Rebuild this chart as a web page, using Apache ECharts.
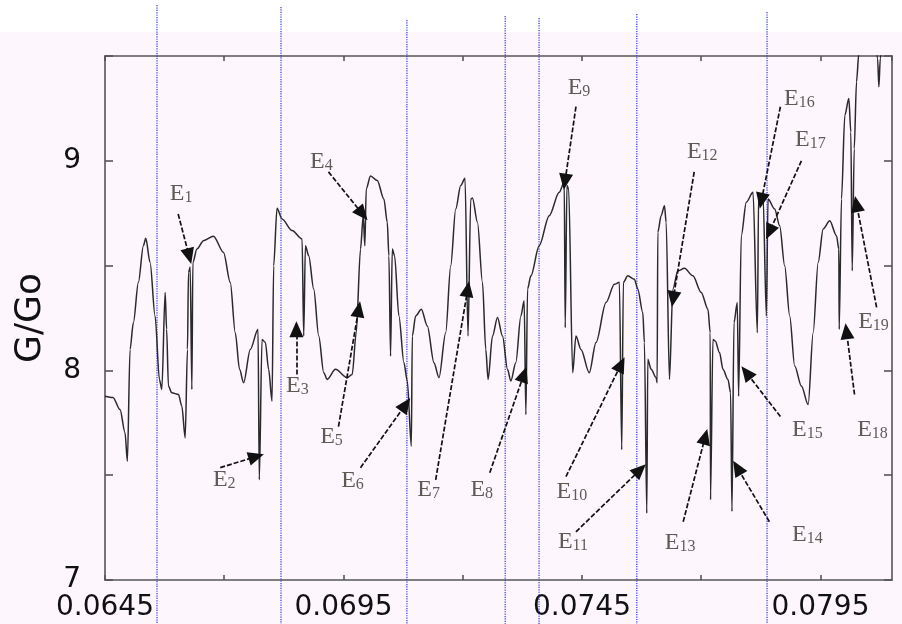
<!DOCTYPE html>
<html>
<head>
<meta charset="utf-8">
<title>G/Go</title>
<script src="https://cdn.jsdelivr.net/npm/echarts@6/dist/echarts.min.js"></script>
<style>
  html, body { margin: 0; padding: 0; background: #fdf6fd; }
  #chart { width: 902px; height: 624px; }
</style>
</head>
<body>
<div id="chart"></div>
<script>
// conductance curve
var energy = [
  0.064500, 0.064668, 0.064815, 0.064920, 0.064969, 0.065025, 0.065095, 0.065200, 0.065305, 0.065355,
  0.065445, 0.065550, 0.065641, 0.065691, 0.065761, 0.065792, 0.065830, 0.065901, 0.066040, 0.066111,
  0.066181, 0.066229, 0.066250, 0.066286, 0.066321, 0.066342, 0.066427, 0.066565, 0.066775, 0.066985,
  0.067126, 0.067231, 0.067321, 0.067406, 0.067546, 0.067708, 0.067735, 0.067792, 0.067861, 0.067931,
  0.068002, 0.068036, 0.068107, 0.068212, 0.068422, 0.068632, 0.068666, 0.068702, 0.068771, 0.068876,
  0.068981, 0.069086, 0.069158, 0.069332, 0.069578, 0.069683, 0.069767, 0.069857, 0.069914, 0.069948,
  0.069977, 0.070067, 0.070208, 0.070347, 0.070418, 0.070452, 0.070487, 0.070523, 0.070571, 0.070662,
  0.070767, 0.070838, 0.070922, 0.070943, 0.071013, 0.071132, 0.071258, 0.071397, 0.071502, 0.071643,
  0.071748, 0.071853, 0.071958, 0.072048, 0.072111, 0.072168, 0.072204, 0.072309, 0.072414, 0.072483,
  0.072532, 0.072624, 0.072729, 0.072834, 0.072939, 0.073008, 0.073113, 0.073219, 0.073288, 0.073324,
  0.073359, 0.073429, 0.073603, 0.073813, 0.074023, 0.074128, 0.074149, 0.074185, 0.074221, 0.074305,
  0.074374, 0.074479, 0.074653, 0.074794, 0.075004, 0.075179, 0.075284, 0.075334, 0.075368, 0.075460,
  0.075599, 0.075670, 0.075775, 0.075809, 0.075859, 0.075880, 0.075950, 0.076055, 0.076076, 0.076090,
  0.076160, 0.076229, 0.076265, 0.076334, 0.076406, 0.076511, 0.076649, 0.076826, 0.077000, 0.077141,
  0.077189, 0.077195, 0.077246, 0.077294, 0.077384, 0.077456, 0.077561, 0.077616, 0.077645, 0.077687,
  0.077756, 0.077784, 0.077840, 0.077945, 0.078086, 0.078177, 0.078204, 0.078296, 0.078366, 0.078401,
  0.078540, 0.078645, 0.078750, 0.078855, 0.078960, 0.079101, 0.079242, 0.079347, 0.079452, 0.079557,
  0.079695, 0.079836, 0.079885, 0.079893, 0.079941, 0.080011, 0.080095, 0.080137, 0.080166, 0.080208,
  0.080256, 0.080305, 0.080403, 0.080613, 0.080698, 0.080725, 0.080754, 0.080824, 0.080992
];
var conductance = [
  7.877, 7.871, 7.813, 7.703, 7.566, 8.100, 8.228, 8.420, 8.595, 8.630,
  8.515, 8.260, 7.957, 7.909, 8.372, 8.196, 7.925, 7.893, 7.885, 7.829,
  7.678, 8.100, 8.467, 8.493, 7.909, 8.515, 8.579, 8.619, 8.640, 8.563,
  8.420, 8.180, 8.005, 7.941, 8.100, 8.196, 7.478, 8.148, 8.134, 8.005,
  7.853, 8.499, 8.774, 8.722, 8.667, 8.627, 8.164, 8.595, 8.547, 8.388,
  8.164, 7.989, 7.957, 8.005, 7.965, 7.981, 8.180, 8.579, 8.738, 8.595,
  8.866, 8.928, 8.906, 8.818, 8.707, 8.547, 8.068, 8.579, 8.547, 8.260,
  8.037, 7.949, 7.638, 8.164, 8.260, 8.292, 8.212, 8.037, 7.965, 8.180,
  8.499, 8.770, 8.882, 8.917, 8.164, 8.818, 8.822, 8.707, 8.420, 8.100,
  7.957, 8.164, 8.252, 8.164, 8.005, 7.949, 8.037, 8.260, 8.332, 7.789,
  8.388, 8.451, 8.595, 8.738, 8.850, 8.898, 8.204, 8.882, 8.866, 7.989,
  8.164, 8.100, 7.989, 8.133, 8.324, 8.411, 8.420, 7.622, 8.420, 8.451,
  8.435, 8.388, 8.276, 8.133, 7.319, 8.053, 8.005, 7.965, 7.941, 8.659,
  8.738, 8.786, 8.707, 7.957, 8.388, 8.475, 8.487, 8.451, 8.372, 8.292,
  8.180, 7.383, 8.148, 8.140, 8.085, 8.005, 7.957, 7.893, 7.327, 8.228,
  8.324, 7.877, 8.643, 8.802, 8.850, 8.180, 8.842, 8.834, 8.260, 8.818,
  8.770, 8.690, 8.499, 8.260, 8.021, 7.925, 7.837, 8.180, 8.515, 8.675,
  8.714, 8.643, 8.579, 8.196, 8.818, 9.217, 9.297, 9.137, 8.475, 9.057,
  9.377, 9.512, 9.632, 9.656, 9.488, 9.353, 9.488, 9.632, 9.670
];

// tick labels that are written
var xTickLabels = [0.0645, 0.0695, 0.0745, 0.0795];
var yTickLabels = [7, 8, 9];

// blue dotted guide lines (x, top end, bottom end)
var guideX = [0.06559, 0.06819, 0.07083, 0.07289, 0.07360, 0.07565, 0.07838];
var guideTop = [9.743, 9.734, 9.672, 9.691, 9.681, 9.700, 9.710];
var guideBottom = 6.79;

// resonance labels E1..E19 and their arrows
var resNames = ['1','2','3','4','5','6','7','8','9','10','11','12','13','14','15','16','17','18','19'];
var labelX = [0.066097, 0.067000, 0.068534, 0.069038, 0.069248, 0.069689, 0.071286, 0.072399, 0.074437, 0.074290,
              0.074311, 0.077021, 0.076559, 0.079227, 0.079227, 0.079059, 0.079290, 0.080592, 0.080613];
var labelY = [8.842, 7.478, 7.928, 8.995, 7.684, 7.474, 7.431, 7.431, 9.349, 7.421,
              7.182, 9.043, 7.177, 7.215, 7.718, 9.297, 9.100, 7.718, 8.234];
var tailX = [0.066034, 0.066916, 0.068513, 0.069185, 0.069395, 0.069857, 0.071433, 0.072567, 0.074374, 0.074164,
             0.074374, 0.076853, 0.076622, 0.078429, 0.078660, 0.078660, 0.079101, 0.080214, 0.080677];
var tailY = [8.746, 7.536, 7.981, 8.947, 7.732, 7.536, 7.478, 7.512, 9.258, 7.493,
             7.230, 8.947, 7.278, 7.278, 7.780, 9.258, 9.000, 7.885, 8.301];
var headX = [0.066265, 0.067672, 0.068513, 0.069899, 0.069819, 0.070803, 0.072105, 0.073282, 0.074143, 0.075319,
             0.075719, 0.076412, 0.077084, 0.077756, 0.077945, 0.078261, 0.078429, 0.080046, 0.080256];
var headY = [8.545, 7.589, 8.196, 8.746, 8.292, 7.837, 8.388, 7.981, 8.900, 8.029,
             7.526, 8.340, 7.684, 7.536, 7.990, 8.809, 8.660, 8.187, 8.794];

var chart = echarts.init(document.getElementById('chart'));

var curve = [];
for (var i = 0; i < energy.length; i++) curve.push([energy[i], conductance[i]]);

var arrows = [];
var labels = [];
for (var k = 0; k < resNames.length; k++) {
  arrows.push([{coord: [tailX[k], tailY[k]]}, {coord: [headX[k], headY[k]]}]);
  labels.push({value: [labelX[k], labelY[k]], name: resNames[k]});
}

function isLabelled(v, list) {
  for (var j = 0; j < list.length; j++) {
    if (Math.abs(v - list[j]) < 1e-7) return true;
  }
  return false;
}

var frame = {color: '#555', width: 1.6};

var guideSeries = guideX.map(function (x, n) {
  return {
    type: 'line',
    silent: true,
    clip: false,
    symbol: 'none',
    z: 1,
    lineStyle: {color: '#3434e0', width: 1.2, type: 'dotted'},
    data: [[x, guideTop[n]], [x, guideBottom]]
  };
});

var option = {
  backgroundColor: '#fdf6fd',
  animation: false,
  graphic: [{
    type: 'rect',
    left: 0,
    top: 0,
    z: 0,
    silent: true,
    shape: {width: 902, height: 32},
    style: {fill: '#ffffff'}
  }],
  grid: {left: 105, right: 10, top: 56, bottom: 44},
  xAxis: [{
    type: 'value',
    position: 'bottom',
    min: 0.0645,
    max: 0.081,
    interval: 0.0025,
    axisLine: {show: true, onZero: false, lineStyle: frame},
    axisTick: {show: true, inside: true, length: 5, lineStyle: frame},
    splitLine: {show: false},
    axisLabel: {
      margin: 14,
      fontFamily: 'DejaVu Sans',
      fontSize: 28,
      color: '#111',
      showMaxLabel: false,
      formatter: function (v) { return isLabelled(v, xTickLabels) ? v.toFixed(4) : ''; }
    }
  }, {
    type: 'value',
    position: 'top',
    min: 0.0645,
    max: 0.081,
    interval: 0.0025,
    axisLine: {show: true, onZero: false, lineStyle: frame},
    axisTick: {show: true, inside: true, length: 5, lineStyle: frame},
    splitLine: {show: false},
    axisLabel: {show: false}
  }],
  yAxis: [{
    type: 'value',
    position: 'left',
    min: 7,
    max: 9.5,
    interval: 0.5,
    name: 'G/Go',
    nameLocation: 'middle',
    nameGap: 56,
    nameRotate: 90,
    nameTextStyle: {fontFamily: 'DejaVu Sans', fontSize: 36, color: '#111'},
    axisLine: {show: true, onZero: false, lineStyle: frame},
    axisTick: {show: true, inside: true, length: 8, lineStyle: frame},
    splitLine: {show: false},
    axisLabel: {
      margin: 24,
      fontFamily: 'DejaVu Sans',
      fontSize: 28,
      color: '#111',
      formatter: function (v) { return isLabelled(v, yTickLabels) ? String(v) : ''; }
    }
  }, {
    type: 'value',
    position: 'right',
    min: 7,
    max: 9.5,
    interval: 0.5,
    axisLine: {show: true, onZero: false, lineStyle: frame},
    axisTick: {show: true, inside: true, length: 8, lineStyle: frame},
    splitLine: {show: false},
    axisLabel: {show: false}
  }],
  series: guideSeries.concat([{
    type: 'line',
    name: 'G/Go',
    data: curve,
    symbol: 'none',
    smooth: 0.3,
    smoothMonotone: 'x',
    z: 3,
    lineStyle: {color: '#2a2a2a', width: 1.5},
    markLine: {
      silent: true,
      symbol: ['none', 'triangle'],
      symbolSize: [14, 16],
      label: {show: false},
      lineStyle: {color: '#111', width: 1.7, type: [5, 2]},
      data: arrows
    }
  }, {
    type: 'scatter',
    silent: true,
    z: 4,
    symbolSize: 1,
    itemStyle: {color: 'rgba(0,0,0,0)'},
    label: {
      show: true,
      position: 'inside',
      formatter: function (p) { return '{m|E}{s|' + p.name + '}'; },
      rich: {
        m: {fontFamily: 'Liberation Serif', fontSize: 24, color: '#36332c', lineHeight: 24},
        s: {fontFamily: 'Liberation Serif', fontSize: 16, color: '#36332c', lineHeight: 16, verticalAlign: 'bottom'}
      }
    },
    data: labels
  }])
};

chart.setOption(option);
</script>
</body>
</html>
